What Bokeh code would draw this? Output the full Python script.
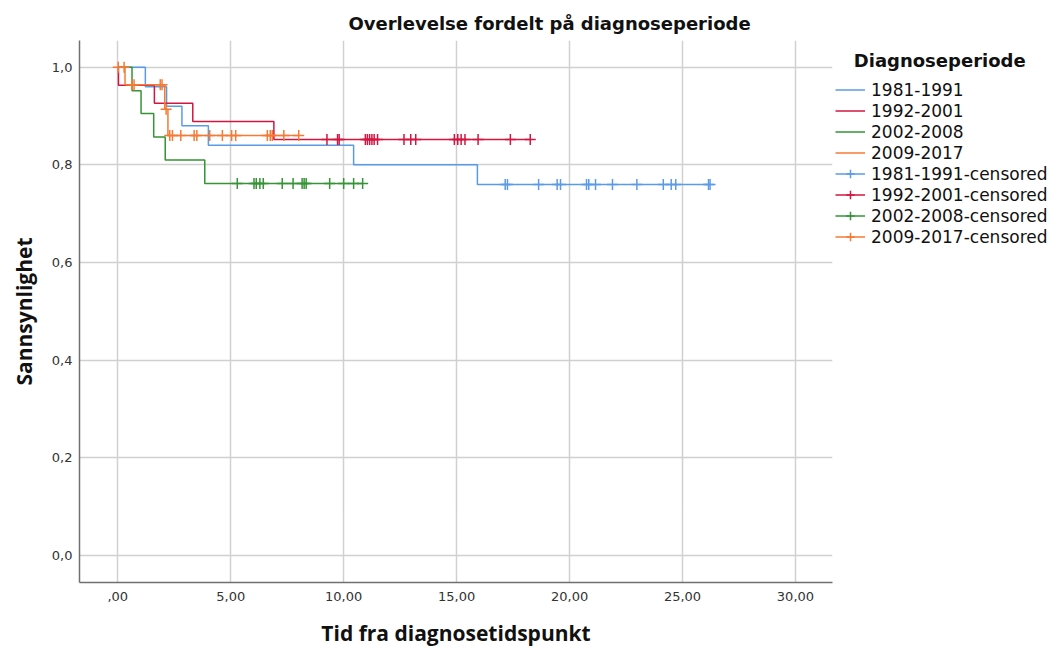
import numpy as np
from bokeh.plotting import figure
from bokeh.models import Range1d, FixedTicker, Legend, LegendItem
from bokeh.embed import file_html
from bokeh.resources import INLINE

# ---------------- data ----------------
periods = ["1981-1991", "1992-2001", "2002-2008", "2009-2017"]
colors = ["#5b9be6", "#d41540", "#359435", "#f47a35"]

# Kaplan-Meier step curves (time of step, survival after step)
blue_t = [0.0, 1.22, 2.16, 2.84, 4.01, 10.44, 15.92, 26.22]
blue_s = [1.0, 0.96, 0.92, 0.88, 0.84, 0.80, 0.76, 0.76]
red_t = [0.0, 0.03, 1.62, 3.32, 6.91, 18.30]
red_s = [1.0, 0.963, 0.926, 0.889, 0.852, 0.852]
green_t = [0.0, 0.63, 1.03, 1.59, 2.10, 3.85, 10.84]
green_s = [1.0, 0.952, 0.905, 0.857, 0.810, 0.762, 0.762]
orange_t = [0.0, 0.32, 2.08, 2.22, 8.01]
orange_s = [1.0, 0.964, 0.914, 0.860, 0.860]

# censored observation times
blue_cens = [17.15, 17.25, 18.63, 19.45, 19.60, 20.75, 20.85, 21.15, 21.90,
             22.98, 24.15, 24.50, 24.70, 26.15, 26.22]
red_cens = [9.26, 9.73, 9.80, 10.96, 11.05, 11.15, 11.25, 11.35, 11.50, 12.67,
            12.97, 13.19, 14.90, 15.05, 15.20, 15.37, 15.95, 17.38, 18.26]
green_cens = [5.29, 6.03, 6.13, 6.29, 6.44, 7.28, 7.76, 8.16, 8.25, 8.34,
              9.38, 10.00, 10.44, 10.84]
orange_cens = [0.02, 0.28, 0.62, 0.72, 1.88, 1.96, 2.14, 2.30, 2.42, 2.79,
               3.38, 3.50, 4.07, 4.63, 5.04, 5.22, 6.62, 6.75, 6.84, 7.35, 8.01]

x_tick_vals = [0, 5, 10, 15, 20, 25, 30]
x_tick_labels = [",00", "5,00", "10,00", "15,00", "20,00", "25,00", "30,00"]
y_tick_vals = [0.0, 0.2, 0.4, 0.6, 0.8, 1.0]
y_tick_labels = ["0,0", "0,2", "0,4", "0,6", "0,8", "1,0"]

title_text = "Overlevelse fordelt på diagnoseperiode"
x_label = "Tid fra diagnosetidspunkt"
y_label = "Sannsynlighet"
legend_title = "Diagnoseperiode"

curves_t = [blue_t, red_t, green_t, orange_t]
curves_s = [blue_s, red_s, green_s, orange_s]
cens = [blue_cens, red_cens, green_cens, orange_cens]


def surv_at(times, surv, t):
    idx = np.searchsorted(np.array(times), np.array(t), side="right") - 1
    return list(np.array(surv)[idx])


# ---------------- figure ----------------
p = figure(frame_width=753, frame_height=542, output_backend="svg",
           toolbar_location=None,
           x_range=Range1d(-1.695, 31.64), y_range=Range1d(-0.0553, 1.0547),
           min_border_left=79, min_border_right=224, min_border_top=40,
           min_border_bottom=66)
p.outline_line_color = None
p.background_fill_color = "white"

p.title.text = title_text
p.title.text_font = "DejaVu Sans"
p.title.text_font_size = "18px"
p.title.text_font_style = "bold"
p.title.text_color = "#111111"
p.title.align = "left"
p.title.offset = 269
p.title.standoff = 13

for ax in (p.xaxis[0], p.yaxis[0]):
    ax.axis_line_color = "#707070"
    ax.axis_line_width = 1.5
    ax.major_tick_line_color = None
    ax.minor_tick_line_color = None
    ax.major_tick_out = 0
    ax.major_tick_in = 0
    ax.major_label_text_font = "DejaVu Sans"
    ax.major_label_text_font_size = "13px"
    ax.major_label_text_color = "#333333"
    ax.axis_label_text_font = "Open Sans"
    ax.axis_label_text_font_size = "21px"
    ax.axis_label_text_font_style = "bold"
    ax.axis_label_text_color = "#111111"

p.xaxis.ticker = FixedTicker(ticks=x_tick_vals)
p.yaxis.ticker = FixedTicker(ticks=y_tick_vals)
p.xaxis.major_label_overrides = dict(zip(x_tick_vals, x_tick_labels))
p.yaxis.major_label_overrides = dict(zip(y_tick_vals, y_tick_labels))
p.xaxis.axis_label = x_label
p.yaxis.axis_label = y_label
p.xaxis.major_label_standoff = 9
p.yaxis.major_label_standoff = 7
p.xaxis.axis_label_standoff = 15
p.yaxis.axis_label_standoff = 11

for g in (p.xgrid[0], p.ygrid[0]):
    g.grid_line_color = "#d0d0d0"
    g.grid_line_width = 1.5
p.xgrid.ticker = FixedTicker(ticks=x_tick_vals)
p.ygrid.ticker = FixedTicker(ticks=y_tick_vals)

step_r = []
for i in range(4):
    r = p.step(curves_t[i], curves_s[i], mode="after", line_color=colors[i],
               line_width=1.5)
    step_r.append(r)

cross_r = []
dummy_r = []
for i in range(4):
    ys = surv_at(curves_t[i], curves_s[i], cens[i])
    r = p.scatter(cens[i], ys, marker="cross", size=11, line_color=colors[i],
                  line_width=1.5)
    cross_r.append(r)
    # legend-only line (no visible data)
    d = p.line(x=[np.nan], y=[np.nan], line_color=colors[i], line_width=1.5)
    dummy_r.append(d)

items = [LegendItem(label=periods[i], renderers=[step_r[i]]) for i in range(4)]
items += [LegendItem(label=periods[i] + "-censored",
                     renderers=[dummy_r[i], cross_r[i]]) for i in range(4)]

legend = Legend(items=items, location=(3, 335), padding=0, margin=0,
                spacing=0, glyph_width=30, glyph_height=21, label_height=21,
                label_standoff=6, label_text_font="DejaVu Sans",
                label_text_font_size="17px", label_text_color="#111111",
                title="\u00a0\u00a0\u00a0" + legend_title,
                title_text_font="DejaVu Sans", title_text_font_size="18px",
                title_text_font_style="bold", title_text_color="#111111",
                title_standoff=8,
                border_line_color=None, background_fill_alpha=0)
p.add_layout(legend, "right")

open("out.html", "w").write(file_html(p, INLINE))
